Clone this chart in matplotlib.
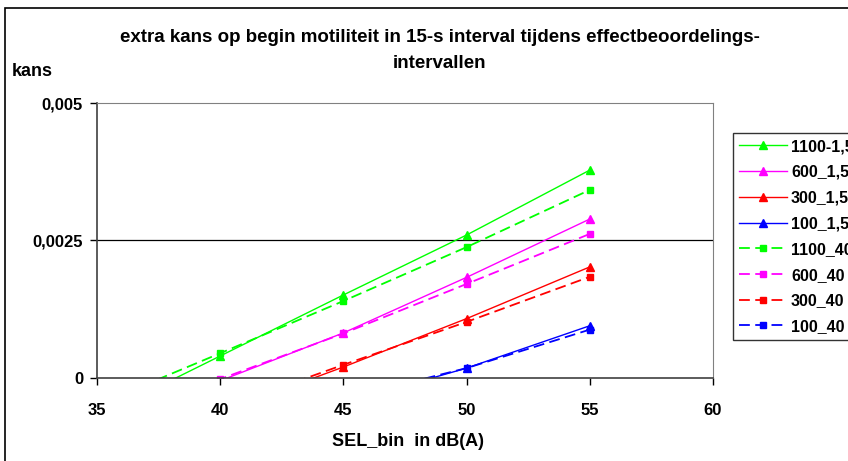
import matplotlib.pyplot as plt
from matplotlib.patches import Rectangle

plt.rcParams['font.family'] = ['Liberation Sans', 'DejaVu Sans']
plt.rcParams['font.weight'] = 'bold'

sel = [35, 40, 45, 50, 55]

labels = ['1100-1,5', '600_1,5', '300_1,5', '100_1,5',
          '1100_40', '600_40', '300_40', '100_40']
colors = ['#00ff00', '#ff00ff', '#ff0000', '#0000ff'] * 2

# values per series at 35, 40, 45, 50, 55 (negative parts are clipped at 0)
v1100_15 = [-0.00071, 0.00040, 0.00151, 0.00260, 0.00378]
v600_15 = [-0.00110, -0.00005, 0.00082, 0.00183, 0.00289]
v300_15 = [-0.00150, -0.00063, 0.00020, 0.00108, 0.00202]
v100_15 = [-0.00180, -0.00110, -0.00046, 0.00018, 0.00095]
v1100_40 = [-0.00049, 0.00045, 0.00140, 0.00238, 0.00342]
v600_40 = [-0.00100, -0.00002, 0.00081, 0.00171, 0.00262]
v300_40 = [-0.00140, -0.00056, 0.00024, 0.00102, 0.00184]
v100_40 = [-0.00170, -0.00100, -0.00038, 0.00018, 0.00088]

series = [v1100_15, v600_15, v300_15, v100_15,
          v1100_40, v600_40, v300_40, v100_40]

fig = plt.figure(figsize=(8.48, 4.61), dpi=100)
fig.patches.append(Rectangle((5 / 848, -0.1), 1.2, 1 - 8 / 461 + 0.1,
                             transform=fig.transFigure, fill=False,
                             edgecolor='black', linewidth=1.2))

ax = fig.add_axes([97 / 848, 1 - 378 / 461, 616 / 848, 275 / 461])

for i, (lab, vals) in enumerate(zip(labels, series)):
    if i < 4:
        ax.plot(sel, vals, color=colors[i], linestyle='-', linewidth=1,
                marker='^', markersize=5.5, label=lab)
    else:
        ax.plot(sel, vals, color=colors[i], linestyle=(0, (6, 3)),
                linewidth=1.3, marker='s', markersize=4.5, label=lab)

ax.set_xlim(35, 60)
ax.set_ylim(0, 0.005)
ax.set_xticks([35, 40, 45, 50, 55, 60])
ax.set_yticks([0, 0.0025, 0.005])
ax.set_yticklabels(['0', '0,0025', '0,005'])
ax.tick_params(labelsize=12, direction='out', length=5, width=1)
ax.tick_params(axis='x', pad=13)
ax.tick_params(axis='y', pad=5)
ax.axhline(0.0025, color='black', linewidth=0.9, zorder=0)

for s in ['top', 'right']:
    ax.spines[s].set_color('#808080')
for s in ['left', 'bottom']:
    ax.spines[s].set_color('#404040')
    ax.spines[s].set_linewidth(1.2)

fig.text(408 / 848, 1 - 441 / 461, 'SEL_bin  in dB(A)', fontsize=13,
         fontweight='bold', ha='center', va='center')
fig.text(12 / 848, 1 - 72 / 461, 'kans', fontsize=13, fontweight='bold',
         va='center', ha='left')
fig.text(440 / 848, 1 - 38 / 461,
         'extra kans op begin motiliteit in 15-s interval tijdens effectbeoordelings-',
         fontsize=13.5, fontweight='bold', ha='center', va='center')
fig.text(440 / 848, 1 - 63 / 461, 'intervallen',
         fontsize=13.5, fontweight='bold', ha='center', va='center')

leg = fig.legend(loc='upper left', bbox_to_anchor=(733 / 848, 1 - 133 / 461),
                 borderaxespad=0, fontsize=11.5, frameon=True, fancybox=False,
                 edgecolor='black', handlelength=3.0, labelspacing=0.67,
                 borderpad=0.38, handletextpad=0.25)
leg.get_frame().set_linewidth(1)

fig.savefig('out.png', dpi=100)
